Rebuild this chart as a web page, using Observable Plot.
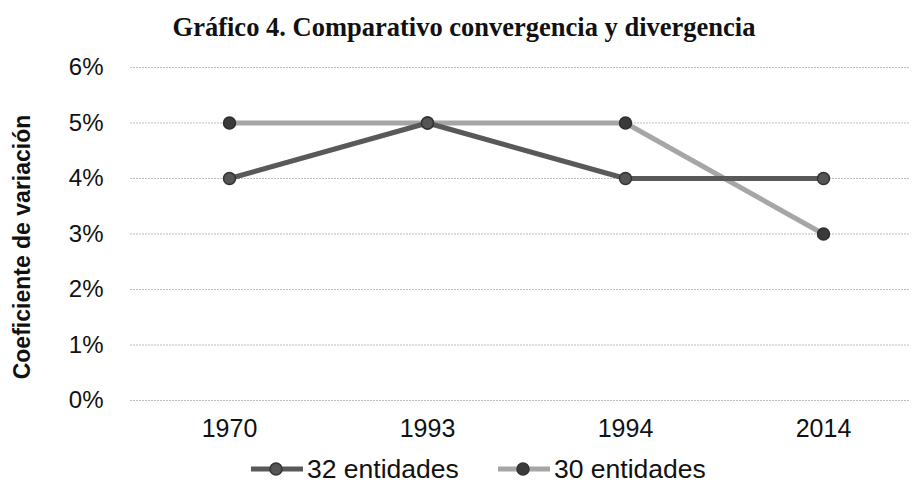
<!DOCTYPE html>
<html>
<head>
<meta charset="utf-8">
<script src="https://cdn.jsdelivr.net/npm/d3@7"></script>
<script src="https://cdn.jsdelivr.net/npm/@observablehq/plot@0.6"></script>
<style>
  body { margin: 0; background: #fff; width: 913px; height: 483px; overflow: hidden; position: relative; }
  #title { height: 50px; line-height: 54px; text-align: center; font-family: "Liberation Serif", "Times New Roman", serif; font-weight: bold; font-size: 26.5px; color: #111; padding-left: 15px; white-space: nowrap; }
  #legend { position: absolute; top: 454px; left: 0; width: 913px; height: 30px; font-family: "Liberation Sans", Arial, sans-serif; font-size: 26.5px; color: #111; }
  .item { position: absolute; top: 0; display: flex; align-items: center; height: 30px; white-space: nowrap; }
  .item svg { margin-right: 3px; }
  #chart text { font-family: "Liberation Sans", Arial, sans-serif; }
</style>
</head>
<body>
<div id="title">Gráfico 4. Comparativo convergencia y divergencia</div>
<div id="chart"></div>
<div id="legend"></div>
<script>
const years = ["1970", "1993", "1994", "2014"];
const series = ["32 entidades", "30 entidades"];
const values32 = [0.04, 0.05, 0.04, 0.04];
const values30 = [0.05, 0.05, 0.05, 0.03];
const yTicks = [0, 0.01, 0.02, 0.03, 0.04, 0.05, 0.06];
const yLabel = "Coeficiente de variación";
const colors = ["#595959", "#a6a6a6"];

const data = [];
years.forEach((y, i) => data.push({year: y, value: values32[i], series: series[0]}));
years.forEach((y, i) => data.push({year: y, value: values30[i], series: series[1]}));

const font = '"Liberation Sans", Arial, sans-serif';

const plot = Plot.plot({
  width: 913,
  height: 410,
  marginLeft: 130,
  marginRight: 3,
  marginTop: 17,
  marginBottom: 60,
  style: {fontFamily: font, fontSize: "24px", color: "#111", background: "white", overflow: "visible"},
  x: {type: "point", domain: years, range: [229, 823], padding: 0, label: null},
  y: {domain: [0, 0.06], label: null},
  marks: [
    Plot.ruleY(yTicks, {stroke: "#bdbdbd", strokeWidth: 1, strokeDasharray: "2,1"}),
    Plot.axisY({ticks: yTicks, tickFormat: d => Math.round(d * 100) + "%", tickSize: 0, tickPadding: 27, fontSize: 24, label: null}),
    Plot.axisX({tickSize: 0, tickPadding: 19, fontSize: 25, label: null}),
    Plot.text([yLabel], {frameAnchor: "left", textAnchor: "middle", rotate: -90, dx: -108, dy: 13, fontWeight: "bold", fontSize: 23, fill: "#111", lineWidth: 100}),
    Plot.line(data.filter(d => d.series === series[1]), {x: "year", y: "value", stroke: colors[1], strokeWidth: 5}),
    Plot.line(data.filter(d => d.series === series[0]), {x: "year", y: "value", stroke: colors[0], strokeWidth: 5}),
    Plot.dot(data.filter(d => d.series === series[1]), {x: "year", y: "value", r: 6, fill: "#3a3a3a", stroke: "#2e2e2e", strokeWidth: 1.5}),
    Plot.dot(data.filter(d => d.series === series[0]), {x: "year", y: "value", r: 6, fill: "#555", stroke: "#333", strokeWidth: 1.5})
  ]
});
document.getElementById("chart").appendChild(plot);

const legend = document.getElementById("legend");
const lefts = [250, 497];
const dotFill = ["#555", "#3a3a3a"];
series.forEach((s, i) => {
  const div = document.createElement("div");
  div.className = "item";
  div.style.left = lefts[i] + "px";
  div.innerHTML = `<svg width="54" height="16"><line x1="1" y1="8" x2="53" y2="8" stroke="${colors[i]}" stroke-width="5"/><circle cx="26" cy="8" r="6" fill="${dotFill[i]}" stroke="#333" stroke-width="1.5"/></svg><span>${s}</span>`;
  legend.appendChild(div);
});
</script>
</body>
</html>
